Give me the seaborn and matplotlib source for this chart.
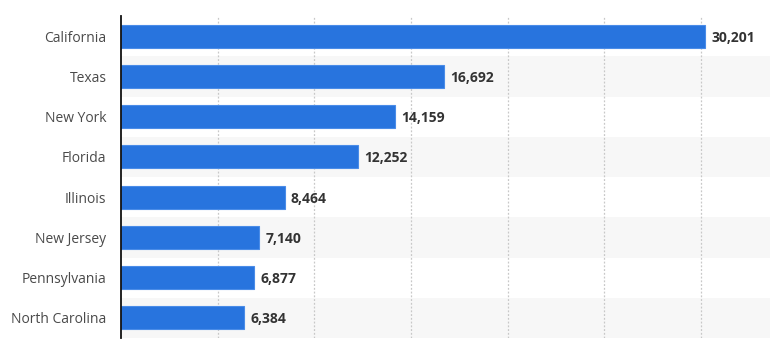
import matplotlib
matplotlib.use("Agg")
import matplotlib.pyplot as plt
import seaborn as sns
import pandas as pd

states = ["California", "Texas", "New York", "Florida", "Illinois",
          "New Jersey", "Pennsylvania", "North Carolina"]
values = [30201, 16692, 14159, 12252, 8464, 7140, 6877, 6384]
value_labels = ["30,201", "16,692", "14,159", "12,252", "8,464", "7,140", "6,877", "6,384"]

df = pd.DataFrame({"state": states, "value": values})

sns.set_style("white")
plt.rcParams["font.family"] = ["Open Sans", "DejaVu Sans"]

fig = plt.figure(figsize=(7.72, 3.42), dpi=100)
ax = fig.add_axes([121 / 772, 4 / 342, (770 - 121) / 772, (338 - 4 - 12) / 342])

# alternating row bands
for i in range(len(states)):
    if i % 2 == 1:
        ax.axhspan(i - 0.5, i + 0.5, color="#f7f7f7", zorder=0, lw=0)

sns.barplot(data=df, x="value", y="state", orient="h", color="#2874de",
            width=0.57, ax=ax, zorder=3, edgecolor="#4a8ce8", linewidth=0.8,
            saturation=1)

ax.set_xlim(0, 33560)
ax.set_ylim(len(states) - 0.5, -0.5)
ax.set_xticks([5000, 10000, 15000, 20000, 25000, 30000])
ax.xaxis.grid(True, linestyle=(0, (1.5, 1.5)), color="#c8c8c8", linewidth=0.9, zorder=1)
ax.set_axisbelow(True)
ax.tick_params(axis="x", length=0, labelbottom=False)
ax.tick_params(axis="y", length=0, pad=10.5, labelsize=10, labelcolor="#4a4a4a")
ax.set_xlabel("")
ax.set_ylabel("")
for s in ["top", "right", "bottom"]:
    ax.spines[s].set_visible(False)
ax.spines["left"].set_color("#111111")
ax.spines["left"].set_linewidth(1.3)
ax.spines["left"].set_zorder(5)

for i, (v, lab) in enumerate(zip(values, value_labels)):
    ax.annotate(lab, (v, i), xytext=(4.5, -1), textcoords="offset points",
                va="center", ha="left", fontsize=10, fontweight="bold",
                color="#333333", zorder=6)

fig.savefig("out.png", dpi=100)
